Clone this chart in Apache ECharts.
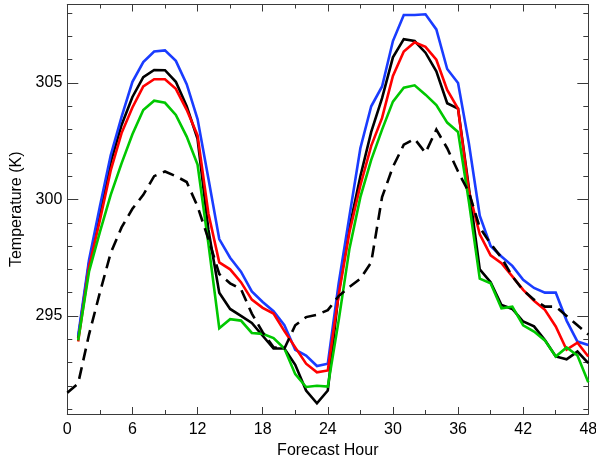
<!DOCTYPE html>
<html>
<head>
<meta charset="utf-8">
<script src="https://cdn.jsdelivr.net/npm/echarts@6/dist/echarts.min.js"></script>
<style>html,body{margin:0;padding:0;background:#fff}#c{width:596px;height:459px}</style>
</head>
<body>
<div id="c"></div>
<script>
const hours = [];
for (let h = 0; h <= 48; h++) hours.push(h);

const xTickLabels = [0, 6, 12, 18, 24, 30, 36, 42, 48];
const yTickLabels = [295, 300, 305];
const yMinorTicks = [291,292,293,294,296,297,298,299,301,302,303,304,306,307,308];

const dashedBlack = [291.7,292.1,294.2,296.0,297.7,298.8,299.6,300.2,301.0,301.2,301.0,300.75,299.7,298.3,296.8,296.4,296.15,295.1,294.3,293.65,293.6,294.6,294.95,295.05,295.25,295.85,296.25,296.6,297.3,300.1,301.4,302.35,302.6,302.0,303.0,302.2,301.2,300.3,298.8,298.1,297.5,296.7,296.1,295.7,295.4,295.4,295.0,294.6,294.2];
const blue = [null,294.15,297.4,299.7,301.9,303.55,305.05,305.9,306.35,306.4,305.95,304.95,303.45,300.9,298.3,297.5,296.9,296.05,295.6,295.2,294.6,293.55,293.3,292.85,292.95,296.4,299.3,302.2,304.0,304.85,306.8,307.92,307.92,307.95,307.3,305.6,305.0,302.4,299.3,298.0,297.55,297.15,296.55,296.2,296.0,296.0,294.8,293.9,293.75];
const black = [null,294.05,297.25,299.4,301.6,303.2,304.4,305.25,305.56,305.55,305.05,304.0,302.6,298.7,296.0,295.3,295.0,294.7,294.15,293.6,293.6,292.9,291.8,291.25,291.8,296.0,298.8,301.0,302.9,304.35,306.1,306.88,306.8,306.3,305.5,304.13,303.9,300.5,297.0,296.45,295.47,295.3,294.76,294.55,293.97,293.26,293.14,293.47,292.97];
const red = [null,293.9,297.1,299.1,301.25,302.85,303.95,304.85,305.16,305.16,304.75,303.85,302.75,299.4,297.3,297.0,296.45,295.7,295.35,295.1,294.35,293.65,292.95,292.58,292.66,295.9,298.6,300.6,302.3,303.5,305.3,306.35,306.75,306.55,306.0,304.7,303.9,300.35,298.5,297.6,297.26,296.7,296.12,295.65,295.26,294.55,293.55,293.85,293.26];
const green = [null,293.95,296.9,298.6,300.2,301.55,302.8,303.84,304.24,304.15,303.63,302.7,301.5,298.1,294.47,294.86,294.8,294.27,294.23,294.05,293.6,292.5,291.95,292.0,291.97,294.8,297.9,300.1,301.7,303.0,304.2,304.8,304.9,304.5,304.05,303.3,302.9,299.9,296.6,296.4,295.33,295.4,294.6,294.33,293.95,293.26,293.65,293.3,292.15];

const yMin = 290.79, yMax = 308.37;
const axisColor = '#3a3a3a';
const font = 'Liberation Sans';

function pairs(arr) {
  const out = [];
  arr.forEach((v, i) => { if (v !== null) out.push([hours[i], v]); });
  return out;
}
function line(name, arr, color, dashed) {
  return {
    name, type: 'line', data: pairs(arr), showSymbol: false, symbol: 'none',
    xAxisIndex: 0, yAxisIndex: 0, animation: false,
    lineStyle: { color, width: 2.6, type: dashed ? [12, 7] : 'solid', join: 'miter' }
  };
}
function xAx(pos, labels) {
  return {
    type: 'value', position: pos, min: 0, max: 48, interval: 6,
    axisLine: { show: true, onZero: false, lineStyle: { color: axisColor, width: 1 } },
    axisTick: { show: true, inside: true, length: 7, lineStyle: { color: axisColor } },
    minorTick: { show: true, splitNumber: 2, length: 4, lineStyle: { color: axisColor } },
    splitLine: { show: false }, minorSplitLine: { show: false },
    axisLabel: { show: labels, color: '#000', fontFamily: font, fontSize: 16, margin: 8,
      customValues: xTickLabels },
    name: labels ? 'Forecast Hour' : '', nameLocation: 'middle', nameGap: 26,
    nameTextStyle: { color: '#000', fontFamily: font, fontSize: 16 }
  };
}
function yAx(pos, major, labels) {
  return {
    type: 'value', position: pos, min: yMin, max: yMax,
    axisLine: { show: true, onZero: false, lineStyle: { color: axisColor, width: 1 } },
    axisTick: { show: true, inside: true, length: major ? 11 : 5, lineStyle: { color: axisColor },
      customValues: major ? yTickLabels : yMinorTicks },
    splitLine: { show: false },
    axisLabel: { show: labels, color: '#000', fontFamily: font, fontSize: 16, margin: 5,
      customValues: yTickLabels },
    name: labels ? 'Temperature (K)' : '', nameLocation: 'middle', nameGap: 35,
    nameTextStyle: { color: '#000', fontFamily: font, fontSize: 16 }
  };
}

const chart = echarts.init(document.getElementById('c'), null, { renderer: 'canvas' });
chart.setOption({
  animation: false,
  backgroundColor: '#fff',
  grid: { left: 67.3, right: 7.7, top: 4.5, bottom: 45, containLabel: false, outerBoundsMode: 'none' },
  xAxis: [xAx('bottom', true), xAx('top', false)],
  yAxis: [yAx('left', true, true), yAx('left', false, false), yAx('right', true, false), yAx('right', false, false)],
  series: [
    line('black', black, '#000000', false),
    line('blue', blue, '#1a3cff', false),
    line('red', red, '#ff0000', false),
    line('green', green, '#00c800', false),
    line('obs', dashedBlack, '#000000', true)
  ]
});
</script>
</body>
</html>
